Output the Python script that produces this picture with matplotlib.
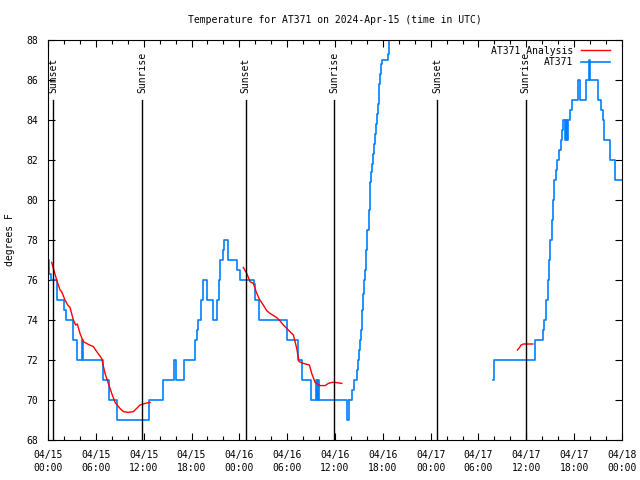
import numpy as np
import matplotlib
matplotlib.use("Agg")
import matplotlib.pyplot as plt

plt.rcParams['font.family'] = ['DejaVu Sans Mono']
plt.rcParams['font.size'] = 7

# hours since 2024-04-15 00:00 UTC
tick_hours = [0, 6, 12, 18, 24, 30, 36, 42, 48, 54, 60, 66, 72]
tick_labels = ['04/15\n00:00', '04/15\n06:00', '04/15\n12:00', '04/15\n18:00',
               '04/16\n00:00', '04/16\n06:00', '04/16\n12:00', '04/16\n18:00',
               '04/17\n00:00', '04/17\n06:00', '04/17\n12:00', '04/17\n18:00',
               '04/18\n00:00']

sun_hours = [0.67, 11.83, 24.78, 35.92, 48.81, 59.94]
sun_labels = ['Sunset', 'Sunrise', 'Sunset', 'Sunrise', 'Sunset', 'Sunrise']

# AT371 observations (step data), three pieces
obs1_h = [0.0, 0.15, 0.33, 1.17, 2.05, 2.26, 3.1, 3.6, 4.31, 4.45, 6.85, 7.7, 8.7,
          12.7, 14.39, 15.8, 16.0, 17.0, 18.45, 18.65, 18.8, 19.25, 19.45, 20.0,
          20.75, 21.2, 21.4, 21.58, 21.95, 22.1, 22.55, 23.75, 24.05, 25.89, 26.0,
          26.45, 30.0, 31.3, 31.9, 33.0, 33.6, 33.7, 33.85, 33.95, 37.45, 37.8]
obs1_t = [77, 76.3, 76, 75, 74.5, 74, 73, 72, 73, 72, 71, 70, 69,
          70, 71, 72, 71, 72, 73, 73.5, 74, 75, 76, 75,
          74, 75, 76, 77, 77.5, 78, 77, 76.5, 76, 75.8, 75,
          74, 73, 72, 71, 70, 71, 70, 71, 70, 69, 70]

obs2_h = [37.8, 38.14, 38.39, 38.81, 38.93, 39.06, 39.18, 39.31, 39.44, 39.56,
          39.69, 39.81, 39.94, 40.06, 40.24, 40.36, 40.44, 40.56, 40.69, 40.82,
          40.94, 41.07, 41.15, 41.28, 41.37, 41.49, 41.57, 41.69, 41.82, 41.94,
          42.62, 42.75]
obs2_t = [70, 70.5, 71, 71.5, 72, 72.5, 73, 73.5, 74.5, 75.3,
          76, 76.5, 77.5, 78.5, 79.5, 80.3, 80.9, 81.4, 81.8, 82.3,
          82.8, 83.3, 83.8, 84.3, 84.8, 85.3, 85.8, 86.3, 86.8, 87.0,
          87.3, 89]

obs3_h = [55.87, 55.95, 56.0, 61.14, 62.15, 62.27, 62.48, 62.7, 62.86, 63.02,
          63.2, 63.32, 63.49, 63.7, 63.9, 64.11, 64.33, 64.49, 64.66, 64.87,
          65.0, 65.16, 65.28, 65.5, 65.75, 66.54, 66.71, 67.5, 67.84, 68.0,
          68.97, 69.39, 69.6, 69.76, 70.51, 71.1, 72.0]
obs3_t = [71, 71.7, 72, 73, 73.5, 74, 75, 76, 77, 78,
          79, 80, 81, 81.5, 82, 82.5, 83, 83.5, 84, 83,
          84, 83, 84, 84.5, 85, 86, 85, 86, 87, 86,
          85, 84.5, 84, 83, 82, 81, 81]

# AT371 analysis, three pieces
ana1_h = [0.46, 1.09, 1.51, 1.71, 2.13, 2.47, 2.76, 3.18, 3.47, 3.68, 4.01, 4.43,
          5.06, 5.69, 6.11, 6.73, 7.15, 7.57, 7.99, 8.41, 9.03, 9.45, 10.08,
          10.71, 11.12, 11.54, 12.17, 12.8]
ana1_t = [76.88, 76.0, 75.5, 75.42, 75.0, 74.75, 74.63, 74.0, 73.75, 73.8, 73.33,
          72.92, 72.78, 72.67, 72.42, 72.08, 71.33, 70.83, 70.33, 69.88, 69.58,
          69.42, 69.38, 69.42, 69.58, 69.75, 69.83, 69.88]

ana2_h = [24.5, 24.93, 25.34, 25.76, 26.1, 26.5, 27.0, 27.43, 27.85, 28.69, 29.11,
          29.53, 30.15, 30.78, 31.2, 31.49, 32.04, 32.79, 33.08, 33.5, 34.13,
          34.76, 35.17, 35.59, 36.01, 36.85]
ana2_t = [76.63, 76.33, 75.92, 75.83, 75.42, 75.05, 74.75, 74.47, 74.33, 74.12,
          73.95, 73.75, 73.5, 73.25, 72.58, 71.92, 71.83, 71.75, 71.33, 70.88,
          70.72, 70.72, 70.83, 70.88, 70.88, 70.83]

ana3_h = [58.88, 59.1, 59.35, 59.64, 60.82]
ana3_t = [72.5, 72.6, 72.75, 72.8, 72.8]

blue = '#0080ff'
red = '#ff0000'

fig = plt.figure(figsize=(6.4, 4.8), dpi=100)
ax = fig.add_axes([48 / 640, 40 / 480, 574 / 640, 400 / 480])

for h, t in [(ana1_h, ana1_t), (ana2_h, ana2_t), (ana3_h, ana3_t)]:
    ax.plot(h, t, color=red, lw=1.0, zorder=3)
ax.plot([], [], color=red, lw=1.0, label='AT371 Analysis')

for h, t in [(obs1_h, obs1_t), (obs2_h, obs2_t), (obs3_h, obs3_t)]:
    ax.plot(h, t, color=blue, lw=1.2, drawstyle='steps-post', zorder=2)
ax.plot([], [], color=blue, lw=1.2, label='AT371')

for h, lab in zip(sun_hours, sun_labels):
    ax.plot([h, h], [68, 85], color='black', lw=1.0, zorder=4)
    ax.text(h, 85.35, lab, rotation=90, ha='center', va='bottom', fontsize=7)

ax.set_xlim(0, 72)
ax.set_ylim(68, 88)
ax.set_xticks(tick_hours)
ax.set_xticklabels(tick_labels, linespacing=1.45)
ax.set_xticks(np.arange(0, 73, 2), minor=True)
ax.set_yticks(np.arange(68, 89, 2))
ax.tick_params(which='both', direction='in', top=True, right=True, width=0.8)
ax.tick_params(which='major', length=5, pad=7)
ax.tick_params(which='minor', length=3)
for s in ax.spines.values():
    s.set_linewidth(0.8)

ax.set_ylabel('degrees F', labelpad=8)
ax.set_title('Temperature for AT371 on 2024-Apr-15 (time in UTC)', pad=12, fontsize=7)

ax.legend(loc='upper right', bbox_to_anchor=(610 / 640, 1 - 45.5 / 480),
          bbox_transform=fig.transFigure, frameon=False, markerfirst=False,
          handlelength=3.0, handletextpad=0.8, labelspacing=0.15,
          borderpad=0, borderaxespad=0, fontsize=7)

fig.savefig('out.png', dpi=100)
